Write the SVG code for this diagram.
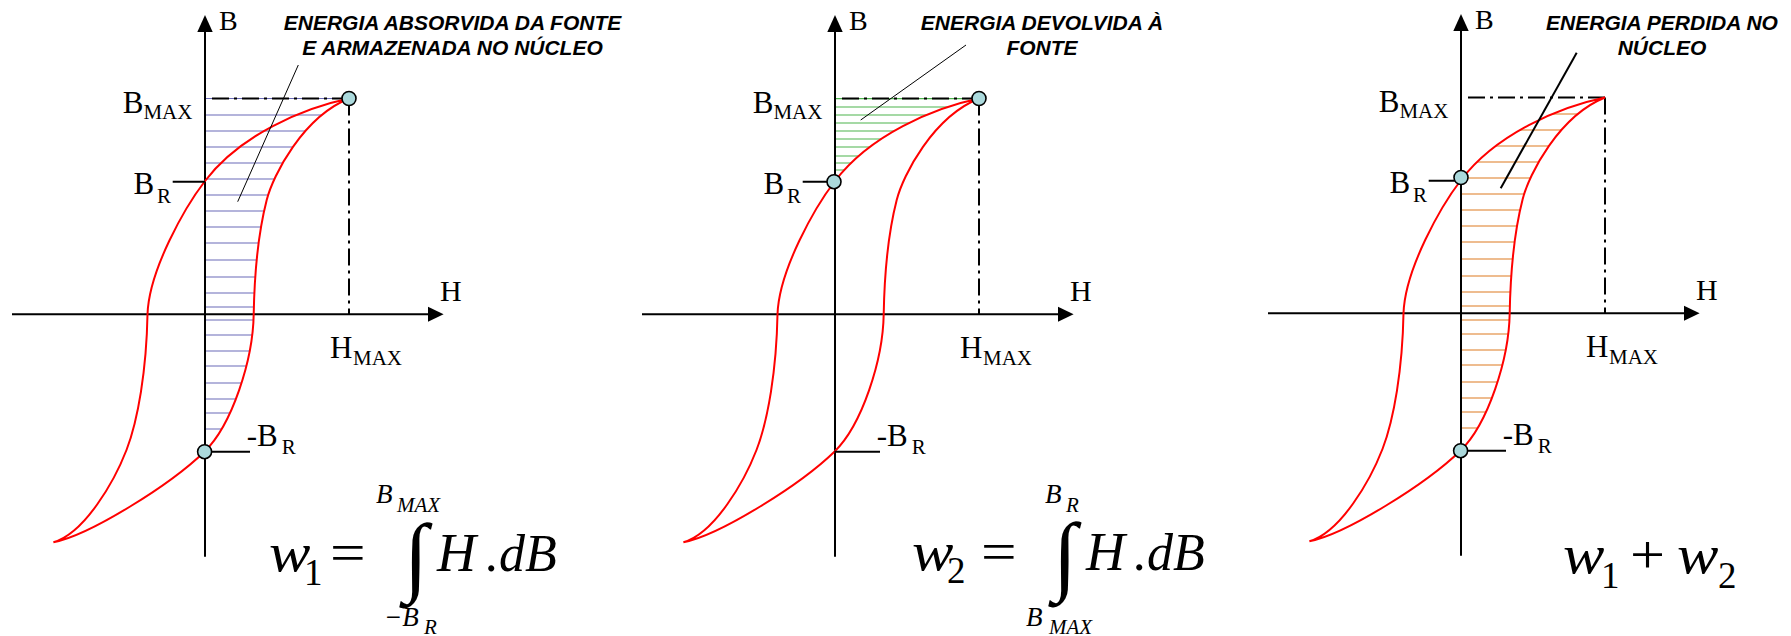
<svg xmlns="http://www.w3.org/2000/svg" width="1791" height="636" viewBox="0 0 1791 636">
<style>
.ax{stroke:#000;stroke-width:2;fill:none}
.tick{stroke:#000;stroke-width:2}
.dd{stroke:#000;stroke-width:2;stroke-dasharray:17,5,3,5;fill:none}
.loop{stroke:#ff0000;stroke-width:2;fill:none}
.pt{fill:#abd9dc;stroke:#000;stroke-width:1.6}
.lead{stroke:#000;stroke-width:1}
.hb{stroke:#6b6bb8;stroke-width:1.2}
.hg{stroke:#4cb34c;stroke-width:1.2}
.ho{stroke:#e8a66a;stroke-width:1.4}
.lbl{font-family:"Liberation Serif","Times New Roman",serif;font-size:31px;fill:#000}
.sub{font-family:"Liberation Serif","Times New Roman",serif;font-size:21px;fill:#000}
.ttl{font-family:"Liberation Sans",Arial,sans-serif;font-weight:bold;font-style:italic;font-size:21px;text-anchor:middle;fill:#000}
.eq{font-family:"Liberation Serif","Times New Roman",serif;font-style:italic;font-size:54px;fill:#000}
.eqd{font-family:"Liberation Serif","Times New Roman",serif;font-style:italic;font-size:52px;fill:#000}
.eqn{font-family:"Liberation Serif","Times New Roman",serif;font-size:54px;fill:#000}
.eqsub{font-family:"Liberation Serif","Times New Roman",serif;font-size:37px;fill:#000}
.lim{font-family:"Liberation Serif","Times New Roman",serif;font-style:italic;font-size:27px;fill:#000}
.limsub{font-family:"Liberation Serif","Times New Roman",serif;font-style:italic;font-size:21px;fill:#000}
.int{font-family:"Liberation Serif","Times New Roman",serif;font-size:88px;fill:#000}
</style>
<defs>
<path id="curve" d="M349,98.5 C303,108 240,135 205,181 C185,207 149,270 147.5,314.3 C146.5,370 138,420 126.5,450 C114.5,481 85,533 53.4,542.3 C90,535 170,485 204.4,451.7 C232,425 253,360 253.7,314.3 C254.5,270 259,230 266.7,200 C273,175 303,117 349,98.5"/>
<clipPath id="clipA"><path d="M206,98 L349,98 C303,117 273,175 266.7,200 C259,230 254.5,270 253.7,314.3 C253,360 232,425 204.4,451.7 L206,451.7 Z"/></clipPath>
<clipPath id="clipB"><path d="M206,98 L349,98 C303,108 240,135 205,181 L206,181 Z"/></clipPath>
<clipPath id="clipC"><path d="M349,98.5 C303,108 240,135 205,181 L206,451.7 L204.4,451.7 C232,425 253,360 253.7,314.3 C254.5,270 259,230 266.7,200 C273,175 303,117 349,98.5 Z"/></clipPath>
<g id="axes">
<line class="ax" x1="205" y1="28" x2="205" y2="556.7"/>
<polygon points="205,15 197.3,32 212.7,32" fill="#000"/>
<line class="ax" x1="12" y1="314.3" x2="431" y2="314.3"/>
<polygon points="443.6,314.3 428,306.8 428,321.8" fill="#000"/>
</g>
<g id="labels">
<text class="lbl" x="219" y="30" style="font-size:28px">B</text>
<text class="lbl" x="440" y="301" style="font-size:30px">H</text>
<text class="lbl" x="122.7" y="113.3">B</text><text class="sub" x="143.4" y="119">MAX</text>
<text class="lbl" x="133.5" y="194.3">B</text><text class="sub" x="157" y="203.3">R</text>
<text class="lbl" x="330" y="358.3">H</text><text class="sub" x="353" y="365">MAX</text>
<text class="lbl" x="246.7" y="445.7">-B</text><text class="sub" x="281.7" y="454">R</text>
</g>
</defs>

<g id="panel1">
<g id="hatch1" clip-path="url(#clipA)" class="hb">
<line x1="206" x2="350" y1="115" y2="115"/><line x1="206" x2="350" y1="131" y2="131"/><line x1="206" x2="350" y1="147" y2="147"/><line x1="206" x2="350" y1="163" y2="163"/><line x1="206" x2="350" y1="179" y2="179"/><line x1="206" x2="350" y1="195" y2="195"/><line x1="206" x2="350" y1="211" y2="211"/><line x1="206" x2="350" y1="227" y2="227"/><line x1="206" x2="350" y1="243" y2="243"/><line x1="206" x2="350" y1="260" y2="260"/><line x1="206" x2="350" y1="277" y2="277"/><line x1="206" x2="350" y1="293" y2="293"/><line x1="206" x2="350" y1="307" y2="307"/><line x1="206" x2="350" y1="320" y2="320"/><line x1="206" x2="350" y1="335" y2="335"/><line x1="206" x2="350" y1="351" y2="351"/><line x1="206" x2="350" y1="366" y2="366"/><line x1="206" x2="350" y1="383" y2="383"/><line x1="206" x2="350" y1="399" y2="399"/><line x1="206" x2="350" y1="413" y2="413"/><line x1="206" x2="350" y1="429" y2="429"/>
</g>
<line class="hb" x1="206" y1="98.5" x2="349" y2="98.5"/>
<use href="#axes"/>
<line class="dd" x1="212" y1="98.5" x2="349" y2="98.5"/>
<line class="dd" x1="349" y1="98.5" x2="349" y2="314"/>
<use href="#curve" class="loop"/>
<line class="tick" x1="172.7" y1="181.7" x2="205" y2="181.7"/>
<line class="tick" x1="204.4" y1="451.7" x2="250" y2="451.7"/>
<circle class="pt" cx="349" cy="98.5" r="7"/>
<circle class="pt" cx="204.6" cy="451.7" r="7"/>
<use href="#labels"/>
<line class="lead" x1="298.3" y1="65" x2="237.7" y2="201.7"/>
<text class="ttl" x="452.5" y="30">ENERGIA ABSORVIDA DA FONTE</text>
<text class="ttl" x="452.5" y="55">E ARMAZENADA NO NÚCLEO</text>
</g>

<g id="panel2" transform="translate(630,0)">
<g id="hatch2" clip-path="url(#clipB)" class="hg">
<line x1="206" x2="350" y1="98.7" y2="98.7"/><line x1="206" x2="350" y1="107" y2="107"/><line x1="206" x2="350" y1="115" y2="115"/><line x1="206" x2="350" y1="123" y2="123"/><line x1="206" x2="350" y1="131" y2="131"/><line x1="206" x2="350" y1="139" y2="139"/><line x1="206" x2="350" y1="147" y2="147"/><line x1="206" x2="350" y1="156" y2="156"/><line x1="206" x2="350" y1="163" y2="163"/><line x1="206" x2="350" y1="170" y2="170"/>
</g>
<line class="hg" x1="206" y1="98.5" x2="349" y2="98.5"/>
<use href="#axes"/>
<line class="dd" x1="212" y1="98.5" x2="349" y2="98.5"/>
<line class="dd" x1="349" y1="98.5" x2="349" y2="314"/>
<use href="#curve" class="loop"/>
<line class="tick" x1="172.7" y1="181.7" x2="205" y2="181.7"/>
<line class="tick" x1="204.4" y1="451.7" x2="250" y2="451.7"/>
<circle class="pt" cx="349" cy="98.5" r="7"/>
<circle class="pt" cx="204" cy="181.7" r="7"/>
<use href="#labels"/>
<line class="lead" x1="336" y1="45" x2="230.7" y2="120"/>
<text class="ttl" x="412" y="30">ENERGIA DEVOLVIDA À</text>
<text class="ttl" x="412" y="55">FONTE</text>
</g>

<g id="panel3" transform="translate(1256,-1)">
<g id="hatch3" clip-path="url(#clipC)" class="ho">
<line x1="150" x2="350" y1="115" y2="115"/><line x1="150" x2="350" y1="131" y2="131"/><line x1="150" x2="350" y1="147" y2="147"/><line x1="150" x2="350" y1="163" y2="163"/><line x1="150" x2="350" y1="179" y2="179"/><line x1="150" x2="350" y1="195" y2="195"/><line x1="150" x2="350" y1="211" y2="211"/><line x1="150" x2="350" y1="227" y2="227"/><line x1="150" x2="350" y1="243" y2="243"/><line x1="150" x2="350" y1="260" y2="260"/><line x1="150" x2="350" y1="277" y2="277"/><line x1="150" x2="350" y1="293" y2="293"/><line x1="150" x2="350" y1="307" y2="307"/><line x1="150" x2="350" y1="321" y2="321"/><line x1="150" x2="350" y1="335" y2="335"/><line x1="150" x2="350" y1="351" y2="351"/><line x1="150" x2="350" y1="366" y2="366"/><line x1="150" x2="350" y1="383" y2="383"/><line x1="150" x2="350" y1="399" y2="399"/><line x1="150" x2="350" y1="413" y2="413"/><line x1="150" x2="350" y1="429" y2="429"/>
</g>
<use href="#axes"/>
<line class="dd" x1="212" y1="98.5" x2="349" y2="98.5"/>
<line class="dd" x1="349" y1="98.5" x2="349" y2="314"/>
<use href="#curve" class="loop"/>
<line class="tick" x1="172.7" y1="181.7" x2="205" y2="181.7"/>
<line class="tick" x1="204.4" y1="451.7" x2="250" y2="451.7"/>
<circle class="pt" cx="205" cy="178.5" r="7"/>
<circle class="pt" cx="204.6" cy="451.7" r="7"/>
<use href="#labels"/>
<line class="lead" x1="320.7" y1="53.7" x2="244.7" y2="189.3" style="stroke-width:2"/>
<text class="ttl" x="406" y="31">ENERGIA PERDIDA NO</text>
<text class="ttl" x="406" y="56">NÚCLEO</text>
</g>

<g id="formula1">
<text class="eq" transform="translate(269,571) scale(1.15,1)">w</text>
<text class="eqsub" x="304" y="585">1</text>
<text class="eqn" transform="translate(330,571) scale(1.17,1)">=</text>
<text class="int" x="404" y="585">∫</text>
<text class="eq" x="437" y="571">H</text>
<text class="eqd" x="486" y="571">.dB</text>
<text class="lim" x="376" y="503">B</text>
<text class="limsub" x="397" y="512">MAX</text>
<text class="lim" x="384" y="626">−B</text>
<text class="limsub" x="424" y="634">R</text>
</g>

<g id="formula2">
<text class="eq" transform="translate(912,570) scale(1.15,1)">w</text>
<text class="eqsub" x="947" y="583">2</text>
<text class="eqn" transform="translate(981,570) scale(1.17,1)">=</text>
<text class="int" x="1053" y="584">∫</text>
<text class="eq" x="1086" y="570">H</text>
<text class="eqd" x="1134" y="570">.dB</text>
<text class="lim" x="1045" y="503">B</text>
<text class="limsub" x="1066" y="512">R</text>
<text class="lim" x="1026" y="626">B</text>
<text class="limsub" x="1049" y="634">MAX</text>
</g>

<g id="formula3">
<text class="eq" transform="translate(1563,573) scale(1.15,1)">w</text>
<text class="eqsub" x="1601" y="588">1</text>
<text class="eqn" transform="translate(1630,573) scale(1.15,1.03)">+</text>
<text class="eq" transform="translate(1677,573) scale(1.15,1)">w</text>
<text class="eqsub" x="1718" y="588">2</text>
</g>
</svg>
